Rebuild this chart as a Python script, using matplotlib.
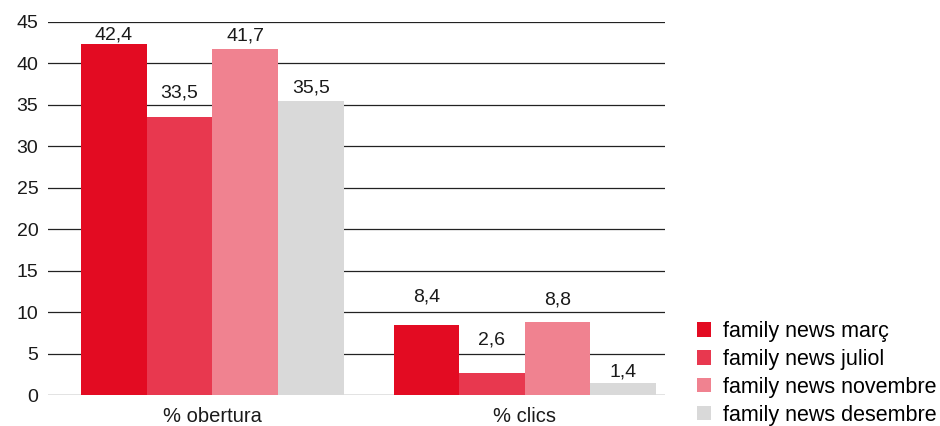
import matplotlib
matplotlib.use("Agg")
import matplotlib.pyplot as plt
import numpy as np

plt.rcParams['font.family'] = ['Liberation Sans', 'DejaVu Sans']

categories = ["% obertura", "% clics"]
series_names = ["family news març", "family news juliol",
                "family news novembre", "family news desembre"]
values = [
    [42.4, 8.4],
    [33.5, 2.6],
    [41.7, 8.8],
    [35.5, 1.4],
]
colors = ["#E30B22", "#E8384F", "#F08290", "#D9D9D9"]
yticks = [0, 5, 10, 15, 20, 25, 30, 35, 40, 45]

# vertical gap (points) between each bar top and its value label baseline
label_gaps = [
    [3.1, 17.5],
    [14.0, 21.0],
    [6.1, 12.6],
    [6.0, 5.0],
]

fig = plt.figure(figsize=(9.4, 4.26), dpi=100)
ax = fig.add_axes([48 / 940, 1 - 395 / 426, (665 - 48) / 940, (395 - 22) / 426])

x = np.arange(len(categories))
width = 0.21
n = len(series_names)
for i, (name, vals, c) in enumerate(zip(series_names, values, colors)):
    pos = x + (i - (n - 1) / 2) * width
    bars = ax.bar(pos, vals, width=width, color=c, label=name, zorder=3)
    for b, v, g in zip(bars, vals, label_gaps[i]):
        ax.annotate(f"{v:.1f}".replace(".", ","),
                    (b.get_x() + b.get_width() / 2, v),
                    xytext=(0, g), textcoords="offset points",
                    ha="center", va="baseline", fontsize=14, color="#1a1a1a")

ax.set_ylim(0, 45)
ax.set_xlim(-0.526, 1.449)
ax.set_yticks(yticks)
ax.set_yticklabels([str(t) for t in yticks], fontsize=14, color="#1a1a1a")
ax.set_xticks(x)
ax.set_xticklabels(categories, fontsize=14.5, color="#1a1a1a")
ax.tick_params(axis="both", length=0)
ax.tick_params(axis="y", pad=7)
ax.tick_params(axis="x", pad=9)
ax.yaxis.grid(True, color="#222222", linewidth=0.9, zorder=0)
ax.set_axisbelow(True)
for s in ax.spines.values():
    s.set_visible(False)

fig.legend(loc="lower left", bbox_to_anchor=(693 / 940, -4 / 426),
           frameon=False, fontsize=15.5, handlelength=0.65, handleheight=0.65,
           handletextpad=0.55, labelspacing=0.32, borderaxespad=0.0,
           borderpad=0.2)

fig.savefig("out.png", dpi=100)
